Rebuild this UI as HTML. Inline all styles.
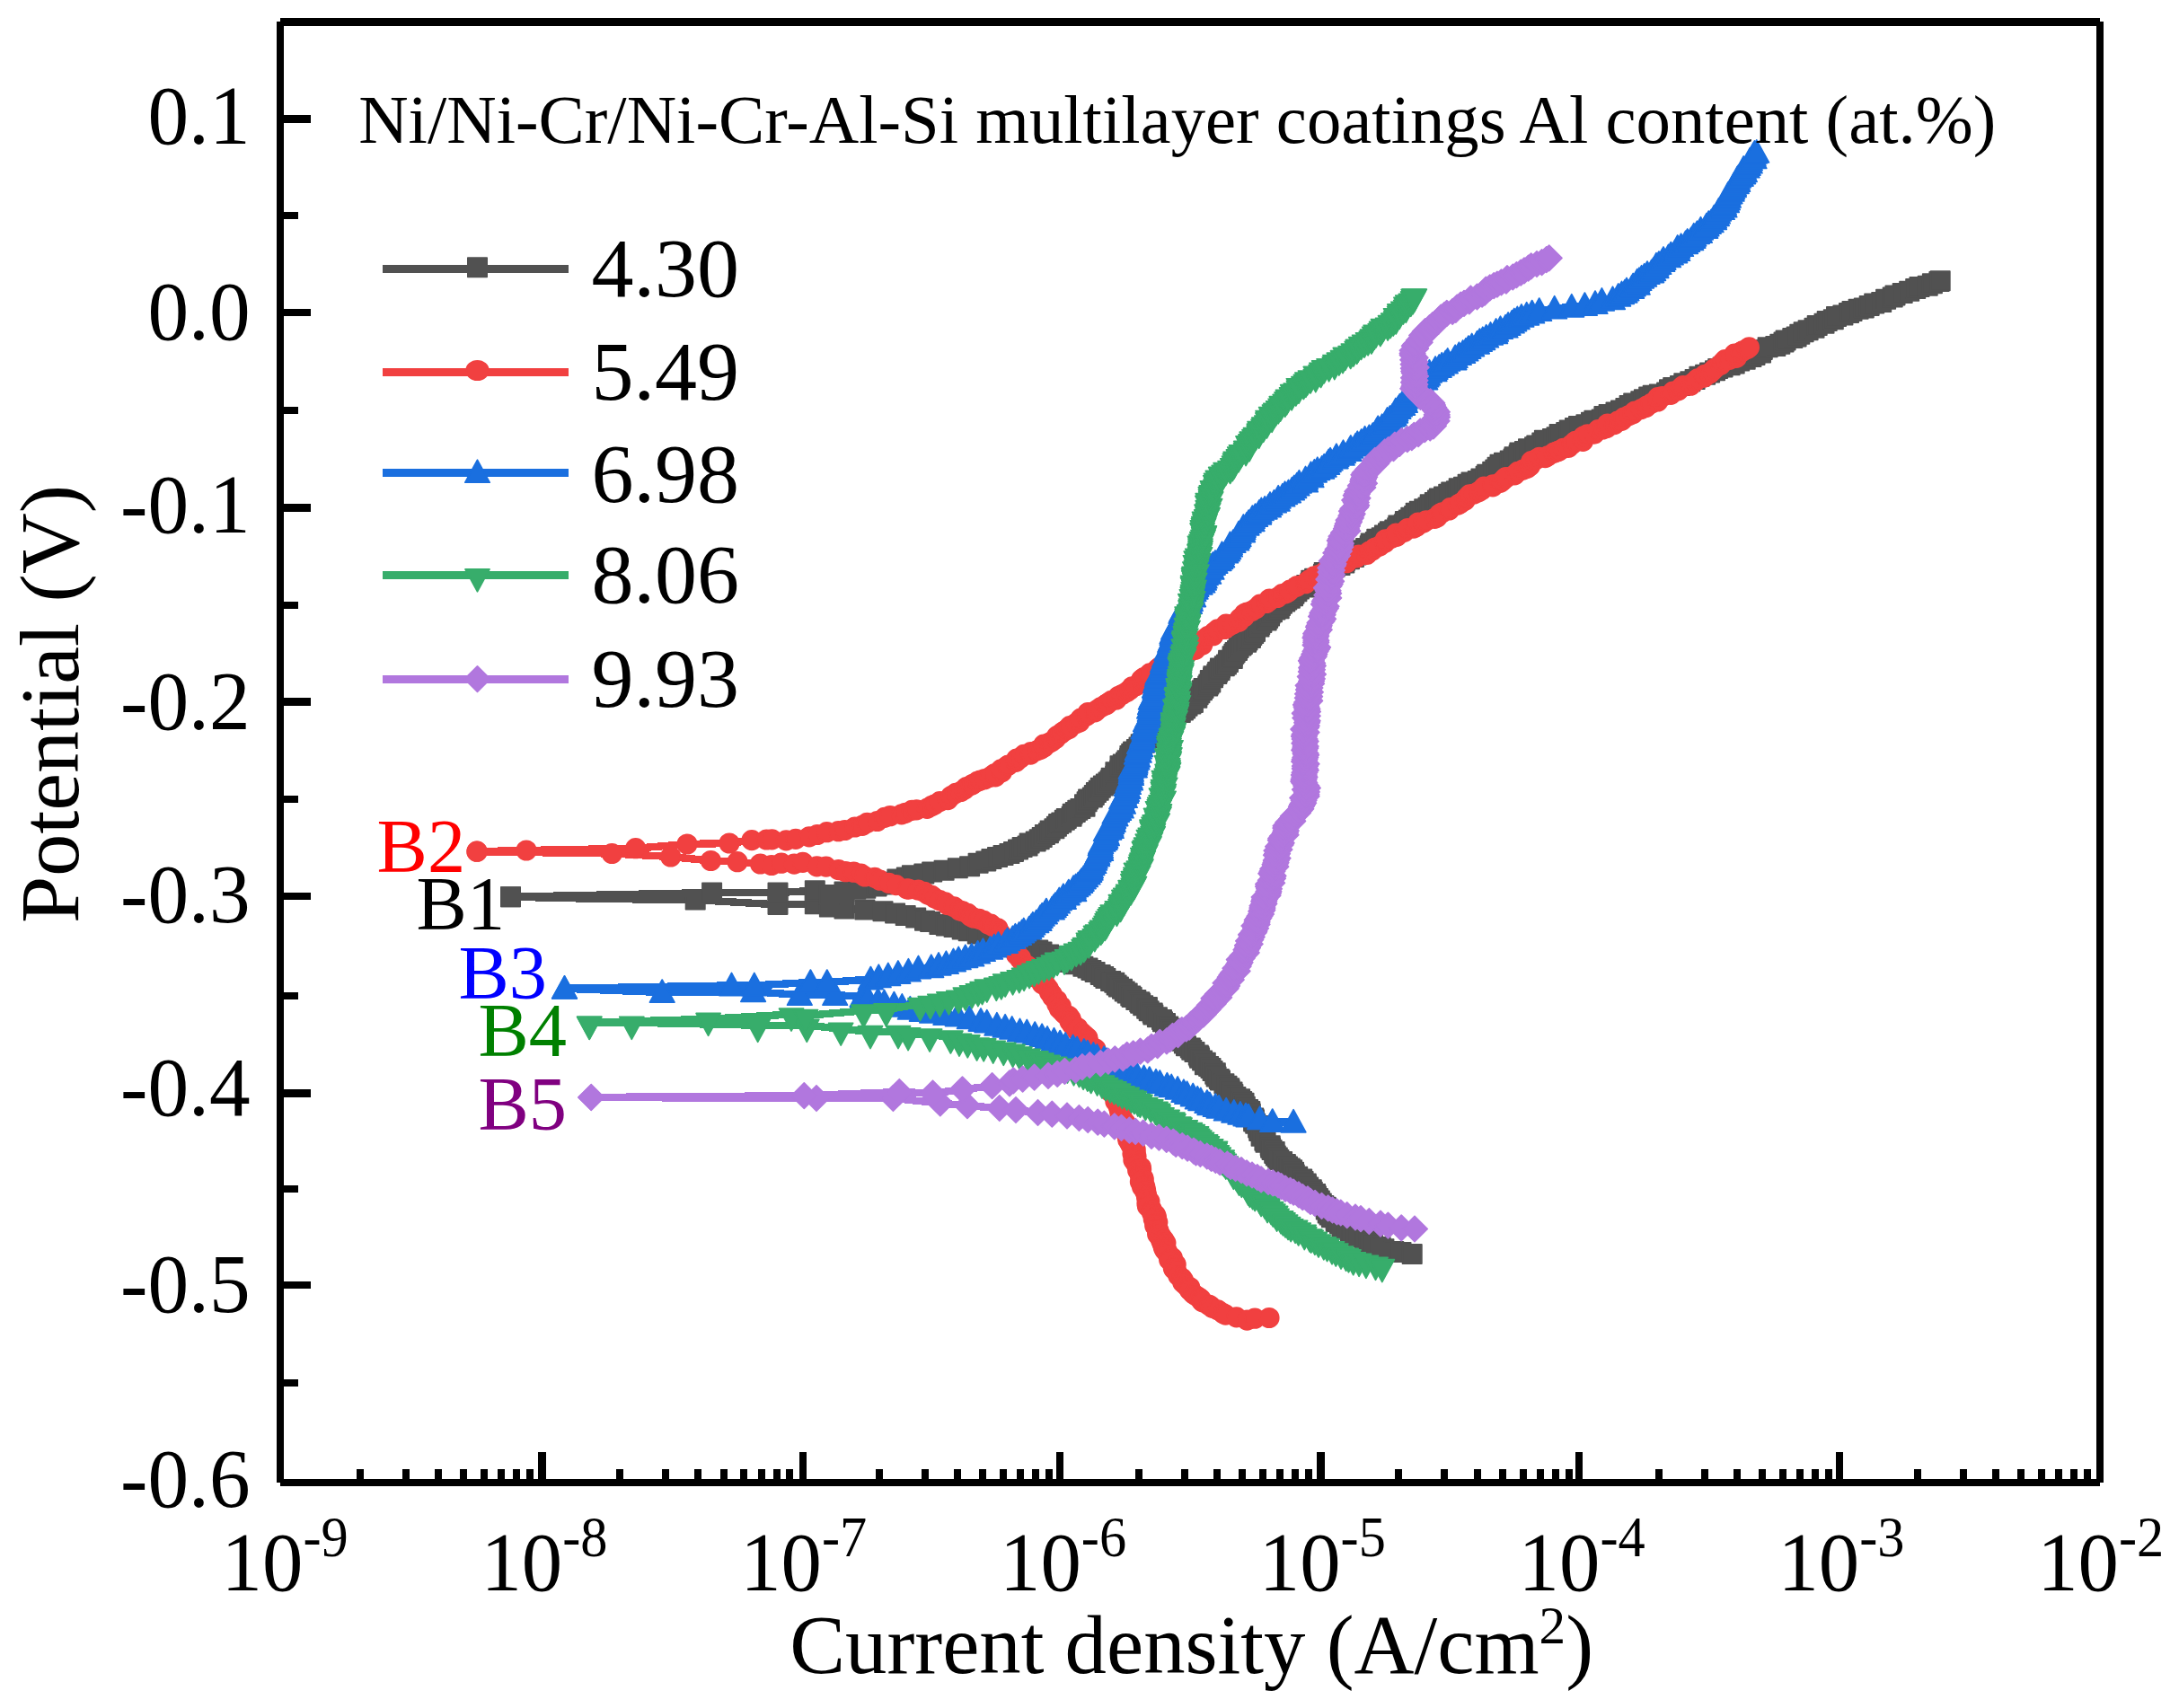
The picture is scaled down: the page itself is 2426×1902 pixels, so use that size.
<!DOCTYPE html>
<html lang="en"><head><meta charset="utf-8"><title>Polarization curves</title>
<style>html,body{margin:0;padding:0;background:#fff;overflow:hidden}svg{display:block}text{font-family:"Liberation Serif",serif;fill:#000}</style></head><body>
<svg width="2426" height="1902" viewBox="0 0 2426 1902">
<rect width="2426" height="1902" fill="#fff"/>
<defs>
<marker id="mB1" markerUnits="userSpaceOnUse" markerWidth="44" markerHeight="44" refX="0" refY="0" viewBox="-22 -22 44 44" overflow="visible"><g fill="#515151" stroke="#515151" stroke-width="1.6" stroke-linejoin="round"><rect x="-10.7" y="-10.7" width="21.4" height="21.4"/></g></marker>
<marker id="mB2" markerUnits="userSpaceOnUse" markerWidth="44" markerHeight="44" refX="0" refY="0" viewBox="-22 -22 44 44" overflow="visible"><g fill="#F14040" stroke="#F14040" stroke-width="1.6" stroke-linejoin="round"><circle r="10.8"/></g></marker>
<marker id="mB3" markerUnits="userSpaceOnUse" markerWidth="44" markerHeight="44" refX="0" refY="0" viewBox="-22 -22 44 44" overflow="visible"><g fill="#1A6FDF" stroke="#1A6FDF" stroke-width="1.6" stroke-linejoin="round"><path d="M0,-14 L13.8,11.2 L-13.8,11.2 Z"/></g></marker>
<marker id="mB4" markerUnits="userSpaceOnUse" markerWidth="44" markerHeight="44" refX="0" refY="0" viewBox="-22 -22 44 44" overflow="visible"><g fill="#37AD6B" stroke="#37AD6B" stroke-width="1.6" stroke-linejoin="round"><path d="M-13.6,-6.4 L13.6,-6.4 L0,18.6 Z"/></g></marker>
<marker id="mB5" markerUnits="userSpaceOnUse" markerWidth="44" markerHeight="44" refX="0" refY="0" viewBox="-22 -22 44 44" overflow="visible"><g fill="#B177DE" stroke="#B177DE" stroke-width="1.6" stroke-linejoin="round"><path d="M0,-14.3 L14.3,0 L0,14.3 L-14.3,0 Z"/></g></marker>
</defs>
<g fill="none" stroke="#515151" stroke-width="8.4" stroke-linejoin="round" stroke-linecap="round" shape-rendering="crispEdges">
<polyline points="568.5,998.7 672.0,1001.0 774.2,1002.0 866.0,1007.4 907.3,1006.7 923.4,1010.0 940.0,1012.0"/>
<polyline stroke="none" points="568.5,998.7 774.2,1002.0 866.0,1007.4 907.3,1006.7 923.4,1010.0" marker-start="url(#mB1)" marker-mid="url(#mB1)" marker-end="url(#mB1)"/>
<polyline points="940.0,1012.0 962.9,1013.1 983.0,1014.8 996.6,1017.1 1008.2,1019.6 1019.7,1022.0 1029.5,1025.2 1035.6,1026.5 1045.9,1029.6 1053.3,1030.9 1062.1,1032.6 1071.2,1035.0 1078.2,1036.8 1088.3,1040.0 1098.5,1042.4 1109.1,1044.8 1116.9,1046.6 1123.7,1048.5 1133.6,1051.1 1138.8,1053.0 1146.9,1055.0 1155.7,1058.0 1160.0,1060.0 1167.7,1062.9 1175.7,1065.0 1183.3,1067.4 1186.5,1069.7 1191.4,1071.5 1197.2,1073.8 1205.9,1076.3 1211.0,1078.1 1214.9,1080.4 1219.1,1082.4 1225.2,1085.4 1228.7,1087.4 1230.9,1089.5 1236.6,1092.5 1240.8,1094.3 1243.1,1097.0 1245.4,1099.0 1249.5,1101.2 1252.2,1104.1 1255.2,1106.0 1258.8,1109.1 1260.2,1110.6 1264.8,1113.5 1268.8,1115.8 1269.7,1117.2 1272.7,1119.8 1277.4,1121.6 1276.7,1123.3 1279.2,1125.7 1283.2,1128.0 1283.9,1130.1 1288.4,1132.8 1293.5,1135.6 1294.5,1137.7 1297.5,1139.6 1300.7,1142.9 1303.0,1145.3 1303.9,1147.2 1305.7,1149.8 1308.6,1151.9 1312.0,1154.6 1314.9,1157.0 1315.9,1159.3 1318.4,1162.0 1320.5,1164.8 1325.3,1166.9 1326.8,1169.3 1330.0,1171.5 1334.3,1175.0 1335.1,1176.6 1335.6,1178.3 1338.6,1181.0 1342.3,1183.2 1341.4,1185.7 1345.6,1187.4 1348.0,1189.5 1350.1,1192.6 1353.3,1194.8 1352.8,1196.3 1354.1,1198.9 1357.3,1201.4 1358.5,1203.0 1362.9,1206.7 1366.0,1209.2 1368.7,1211.8 1369.1,1213.8 1372.0,1215.9 1372.9,1218.5 1375.9,1221.5 1380.6,1223.8 1382.7,1226.5 1385.0,1228.2 1384.4,1230.0 1386.3,1232.3 1389.6,1235.6 1391.8,1237.6 1392.3,1240.2 1391.4,1242.3 1395.7,1244.9 1396.4,1246.7 1395.6,1248.9 1397.7,1251.2 1401.5,1253.4 1400.6,1255.9 1403.0,1257.5 1401.7,1259.4 1405.8,1263.0 1404.1,1265.2 1408.7,1268.1 1407.9,1270.2 1409.0,1272.2 1414.2,1275.8 1414.6,1278.3 1416.1,1280.5 1419.2,1282.4 1418.7,1284.4 1420.3,1286.9 1422.3,1288.9 1423.9,1291.4 1427.6,1293.6 1431.4,1296.6 1433.5,1298.9 1436.3,1301.0 1438.6,1302.8 1440.5,1305.2 1441.3,1307.9 1444.7,1310.2 1449.7,1313.1 1451.1,1315.4 1454.2,1318.0 1454.4,1319.8 1456.7,1321.9 1460.3,1324.7 1461.3,1327.2 1464.6,1329.6 1465.5,1332.0 1467.4,1334.6 1469.3,1337.0 1471.3,1339.9 1473.8,1342.4 1476.2,1344.3 1476.3,1347.1 1479.0,1348.9 1478.2,1351.1 1480.1,1353.1 1482.4,1355.8 1487.3,1358.6 1487.3,1360.4 1491.3,1362.4 1494.3,1365.5 1494.0,1367.1 1497.7,1369.1 1503.5,1372.0 1504.6,1373.6 1510.0,1375.9 1513.0,1378.1 1519.6,1380.5 1524.2,1383.3 1528.5,1385.5 1537.1,1388.5 1540.9,1390.8 1551.8,1393.4 1560.0,1394.4 1572.2,1396.6" marker-start="url(#mB1)" marker-mid="url(#mB1)" marker-end="url(#mB1)"/>
<polyline points="568.5,998.7 792.6,994.0 866.0,994.0 907.3,991.8 923.4,996.4 940.0,993.0"/>
<polyline stroke="none" points="568.5,998.7 792.6,994.0 866.0,994.0 907.3,991.8 923.4,996.4" marker-start="url(#mB1)" marker-mid="url(#mB1)" marker-end="url(#mB1)"/>
<polyline points="940.0,993.0 952.8,990.2 963.8,989.2 976.1,986.9 982.6,984.9 992.0,982.3 998.9,978.9 1009.3,977.1 1015.4,974.8 1028.8,973.1 1037.7,971.0 1051.1,969.3 1066.3,966.7 1079.6,964.7 1089.1,961.2 1097.8,958.9 1103.9,956.6 1110.5,954.5 1117.0,952.5 1123.9,950.6 1128.5,948.4 1133.5,946.1 1138.1,943.6 1144.0,942.0 1146.1,939.1 1153.2,936.9 1157.2,934.7 1160.2,932.5 1163.4,929.5 1167.4,927.8 1169.1,925.1 1173.9,922.8 1176.4,920.2 1178.6,917.6 1181.8,915.9 1185.3,913.2 1187.3,911.4 1193.1,909.3 1194.2,906.2 1197.3,904.4 1199.8,902.2 1202.9,900.5 1208.0,898.2 1207.5,895.7 1210.1,892.7 1211.6,890.1 1216.3,888.1 1218.3,885.4 1220.4,882.6 1223.2,880.2 1225.3,877.2 1228.4,874.9 1231.3,873.1 1234.0,871.1 1236.1,869.1 1237.2,866.2 1241.7,864.2 1242.7,862.3 1241.9,859.8 1246.7,857.8 1247.6,855.6 1247.0,852.7 1250.3,851.0 1253.5,849.0 1255.0,846.8 1257.6,844.5 1257.9,841.5 1259.7,839.2 1261.6,837.0 1265.4,834.5 1268.0,832.0 1270.2,828.8 1274.2,827.3 1276.0,824.4 1279.2,821.6 1281.9,819.4 1281.6,816.5 1286.4,814.4 1289.2,812.9 1291.2,810.0 1294.3,808.1 1298.4,806.1 1300.7,803.4 1301.3,801.1 1306.0,799.4 1307.9,796.9 1308.9,794.8 1314.3,793.5 1317.4,791.0 1319.7,788.9 1322.0,786.2 1325.9,784.1 1328.4,782.4 1327.1,778.8 1332.8,777.3 1334.1,773.8 1335.9,771.8 1338.4,768.8 1340.0,766.4 1344.7,764.1 1345.8,762.1 1347.8,760.0 1347.3,757.6 1350.5,754.7 1350.9,752.7 1354.8,750.6 1355.7,748.2 1358.1,746.6 1358.5,744.1 1363.3,741.7 1365.4,740.1 1367.4,737.5 1367.6,735.2 1372.3,733.5 1372.1,730.8 1373.9,728.2 1375.1,726.5 1377.5,724.4 1379.1,721.4 1381.9,719.1 1383.4,717.4 1387.6,715.2 1389.0,712.9 1392.5,710.4 1393.8,707.5 1395.7,705.5 1397.5,703.4 1397.4,700.2 1402.0,698.1 1402.8,695.5 1404.9,693.4 1410.2,690.9 1411.6,688.4 1413.5,686.1 1414.1,683.3 1416.4,681.8 1419.9,679.0 1424.2,677.8 1425.5,674.5 1427.4,672.2 1430.7,670.0 1432.8,667.9 1436.3,666.3 1439.5,663.7 1440.9,661.3 1443.9,658.8 1446.4,656.1 1453.3,653.9 1454.7,651.6 1459.0,648.9 1459.8,646.2 1463.6,644.2 1469.5,642.7 1473.4,639.6 1474.2,637.5 1480.9,635.6 1483.1,632.8 1486.1,631.4 1492.0,629.6 1496.8,627.0 1497.5,624.3 1502.5,622.7 1507.4,620.6 1510.0,618.1 1513.4,615.3 1516.0,612.8 1520.6,610.5 1525.2,607.8 1526.2,605.0 1531.3,603.4 1532.8,600.2 1538.2,598.7 1541.4,596.1 1545.5,593.8 1547.3,591.8 1552.8,590.1 1555.7,587.7 1556.8,585.0 1563.3,583.7 1564.4,580.5 1568.3,578.9 1570.8,576.2 1574.6,574.6 1576.2,571.2 1580.3,569.3 1585.7,566.8 1590.0,564.9 1592.2,561.7 1597.3,559.6 1600.4,557.1 1602.4,555.1 1607.5,553.1 1612.7,550.3 1615.7,548.1 1621.4,546.7 1624.2,543.7 1629.5,542.3 1634.1,539.2 1638.0,537.1 1645.2,535.6 1648.9,533.1 1654.1,530.3 1655.7,528.2 1661.7,525.2 1664.8,522.9 1667.1,520.2 1670.0,517.3 1674.5,515.3 1681.2,513.1 1685.0,510.9 1686.0,508.8 1691.1,506.5 1691.9,504.0 1697.4,502.6 1701.5,499.8 1708.6,497.7 1710.8,496.0 1716.8,492.9 1719.4,490.2 1728.5,488.5 1733.0,486.7 1736.1,483.4 1743.7,481.6 1747.2,479.0 1753.5,476.5 1757.5,474.6 1765.9,472.8 1771.5,470.2 1774.9,468.3 1783.2,467.0 1785.9,463.6 1791.1,461.4 1799.0,459.0 1804.5,457.0 1809.9,454.5 1814.1,451.4 1818.7,448.9 1826.8,446.7 1830.4,444.8 1835.7,442.0 1840.2,440.3 1847.4,438.9 1855.6,437.1 1858.5,433.7 1862.7,431.6 1870.5,429.5 1874.8,426.8 1881.8,424.8 1887.1,422.5 1891.9,419.3 1898.6,417.3 1903.6,415.0 1909.5,412.8 1912.7,410.4 1918.1,408.9 1926.1,406.7 1931.2,405.1 1936.7,402.1 1943.2,400.3 1949.9,397.5 1954.0,395.4 1960.5,393.1 1962.3,389.4 1968.1,386.8 1976.8,385.6 1981.8,383.2 1986.0,381.1 1988.1,378.9 1995.8,376.6 2000.1,374.9 2003.8,372.3 2008.1,369.7 2013.1,367.7 2020.0,365.2 2023.2,362.5 2031.0,360.3 2034.2,357.6 2041.3,355.7 2044.5,352.5 2051.9,351.0 2058.5,348.5 2062.0,346.6 2069.1,344.3 2075.3,342.9 2081.2,340.4 2086.7,338.0 2094.7,336.6 2099.6,333.3 2107.2,331.1 2110.0,328.9 2118.2,326.5 2125.7,324.3 2132.7,321.5 2137.0,319.5 2146.2,318.2 2151.4,315.7 2158.9,313.6 2160.2,312.7" marker-start="url(#mB1)" marker-mid="url(#mB1)" marker-end="url(#mB1)"/>
</g>
<g fill="none" stroke="#F14040" stroke-width="8.4" stroke-linejoin="round" stroke-linecap="round" shape-rendering="crispEdges">
<polyline points="531.0,948.2 681.3,950.5 746.7,954.0 791.4,958.5 821.0,959.7 846.5,962.0"/>
<polyline stroke="none" points="531.0,948.2 681.3,950.5 746.7,954.0 791.4,958.5 821.0,959.7" marker-start="url(#mB2)" marker-mid="url(#mB2)" marker-end="url(#mB2)"/>
<polyline points="846.5,962.0 859.0,963.5 869.9,961.2 884.2,962.1 893.8,960.3 909.5,964.9 919.7,965.1 933.5,968.6 941.4,970.7 950.5,971.2 958.4,973.0 962.8,976.0 973.9,977.3 979.7,980.2 989.4,983.3 997.6,985.6 1009.7,989.9 1011.7,990.1 1022.2,991.2 1029.2,993.4 1033.1,996.1 1037.2,997.4 1040.6,1000.1 1046.2,1002.7 1052.4,1004.9 1055.2,1007.7 1062.2,1009.8 1068.2,1013.9 1071.8,1014.9 1077.6,1017.4 1080.5,1020.2 1083.8,1022.1 1090.0,1023.3 1095.2,1025.4 1100.3,1029.1 1103.1,1029.2 1105.9,1031.9 1110.9,1033.8 1112.4,1037.9 1114.1,1039.7 1113.8,1042.3 1118.0,1044.9 1123.0,1045.9 1124.5,1050.2 1122.2,1050.8 1127.7,1053.5 1130.0,1056.5 1131.2,1058.7 1131.5,1062.9 1132.2,1063.7 1136.4,1066.6 1136.1,1068.4 1139.0,1072.7 1143.7,1075.3 1142.3,1076.8 1143.4,1078.2 1148.0,1080.3 1151.2,1083.1 1151.7,1085.7 1151.4,1087.7 1156.7,1088.8 1159.6,1090.6 1162.4,1093.6 1160.2,1095.5 1161.9,1096.2 1165.1,1098.3 1167.4,1101.1 1168.5,1105.1 1170.5,1106.8 1171.3,1107.5 1171.7,1110.1 1176.7,1113.8 1177.5,1117.4 1176.7,1118.0 1181.3,1120.5 1179.5,1123.4 1182.3,1126.1 1185.4,1129.4 1189.8,1131.3 1192.1,1134.5 1191.1,1137.6 1193.2,1138.1 1193.8,1141.3 1199.8,1144.5 1199.0,1145.1 1199.0,1147.9 1204.5,1149.9 1207.2,1152.5 1210.9,1155.6 1208.6,1157.6 1208.7,1158.7 1212.0,1160.6 1211.4,1163.9 1212.7,1165.8 1219.9,1168.2 1217.7,1171.4 1221.4,1174.5 1224.7,1176.4 1223.0,1179.0 1222.2,1182.6 1227.0,1185.1 1223.3,1187.1 1228.3,1189.3 1229.3,1191.7 1227.6,1192.9 1229.0,1195.2 1230.9,1199.5 1234.1,1202.5 1235.2,1203.4 1235.0,1206.0 1236.9,1208.6 1234.4,1210.7 1238.9,1212.4 1239.3,1214.0 1236.8,1216.2 1240.8,1220.5 1242.2,1221.2 1244.3,1223.5 1241.9,1226.5 1245.0,1228.5 1246.0,1231.3 1245.4,1233.0 1247.3,1235.4 1246.5,1237.0 1248.1,1238.4 1247.2,1241.3 1247.7,1244.3 1249.4,1244.7 1250.5,1249.4 1252.9,1250.2 1251.9,1252.2 1256.3,1256.8 1256.7,1259.5 1253.5,1261.2 1255.7,1264.5 1259.0,1267.7 1255.7,1269.5 1261.6,1273.1 1258.2,1273.2 1259.2,1275.3 1264.2,1280.2 1263.5,1282.5 1263.9,1283.5 1261.0,1284.8 1265.0,1287.8 1262.9,1290.2 1261.9,1291.8 1264.3,1295.3 1265.8,1296.7 1270.3,1299.8 1270.6,1302.2 1266.7,1303.2 1269.5,1306.6 1269.3,1308.5 1270.7,1309.7 1272.9,1311.9 1273.2,1314.3 1269.4,1316.1 1274.7,1321.1 1271.6,1321.8 1275.6,1325.5 1274.8,1327.1 1276.6,1330.6 1276.7,1333.4 1277.2,1334.3 1279.9,1337.9 1277.0,1340.3 1277.5,1343.3 1281.9,1346.5 1282.6,1348.0 1282.5,1350.6 1286.4,1352.8 1287.4,1355.2 1284.3,1357.6 1288.8,1361.1 1286.2,1363.9 1285.8,1364.9 1288.0,1368.1 1289.9,1370.2 1288.6,1371.2 1288.7,1374.5 1292.9,1376.8 1291.3,1377.8 1295.8,1380.8 1292.9,1382.0 1297.9,1384.1 1294.4,1385.7 1297.9,1389.5 1295.5,1389.5 1296.9,1392.2 1299.7,1394.3 1300.1,1396.5 1305.3,1400.7 1301.7,1402.9 1303.0,1403.8 1309.1,1407.9 1308.6,1409.2 1306.3,1411.5 1306.9,1413.2 1309.9,1415.9 1311.8,1420.6 1315.6,1423.0 1317.5,1425.7 1316.9,1428.3 1320.3,1431.4 1324.7,1433.5 1324.3,1436.2 1325.0,1437.0 1328.6,1440.9 1331.2,1442.5 1334.7,1444.8 1336.6,1446.3 1337.7,1448.5 1338.9,1449.7 1345.4,1453.0 1347.2,1453.8 1349.8,1456.3 1355.9,1458.8 1361.7,1462.5 1364.5,1464.1 1376.6,1466.9 1388.4,1470.1 1397.1,1468.2 1413.0,1467.5" marker-start="url(#mB2)" marker-mid="url(#mB2)" marker-end="url(#mB2)"/>
<polyline points="531.0,948.2 586.0,947.0 707.7,944.7 765.0,940.0 812.0,939.0 837.0,935.6"/>
<polyline stroke="none" points="531.0,948.2 586.0,947.0 707.7,944.7 765.0,940.0 812.0,939.0" marker-start="url(#mB2)" marker-mid="url(#mB2)" marker-end="url(#mB2)"/>
<polyline points="837.0,935.6 853.4,935.0 859.4,934.8 875.3,935.9 885.9,934.3 900.9,931.8 909.9,929.5 920.5,926.7 933.4,925.7 940.6,924.5 951.8,921.0 960.1,919.4 965.4,916.3 976.6,914.5 984.9,910.4 991.0,908.7 1003.8,906.8 1008.1,905.3 1015.4,902.4 1020.4,901.9 1032.2,900.4 1036.9,897.7 1040.4,896.0 1046.3,892.6 1055.3,890.6 1059.0,886.5 1064.1,883.4 1069.7,881.5 1073.8,879.0 1076.0,876.5 1081.3,874.4 1083.1,873.4 1088.1,870.4 1091.5,869.1 1096.3,867.7 1102.2,865.4 1108.2,864.8 1107.1,861.8 1115.3,859.9 1114.4,856.9 1121.5,852.8 1122.7,852.1 1131.1,848.4 1131.8,845.1 1135.9,844.2 1140.0,840.4 1147.3,840.1 1147.7,837.7 1154.6,835.9 1158.6,834.2 1162.3,832.1 1162.0,829.2 1167.6,827.5 1170.9,825.9 1175.3,822.5 1176.7,819.7 1180.9,817.3 1183.3,815.0 1186.4,813.2 1190.2,811.6 1191.1,808.6 1197.6,805.7 1202.0,804.0 1203.2,800.1 1209.3,797.3 1210.8,796.1 1211.3,793.5 1219.1,792.9 1221.0,790.8 1225.3,787.9 1230.3,785.2 1232.1,784.6 1233.4,783.0 1237.4,780.3 1242.8,779.0 1244.9,775.6 1249.2,773.5 1254.5,770.5 1258.0,768.0 1260.4,764.8 1264.8,763.8 1269.5,760.8 1270.8,756.6 1273.6,754.5 1279.2,752.8 1280.2,749.9 1289.5,748.1 1288.8,744.7 1291.9,742.3 1300.3,742.0 1302.1,740.4 1307.5,738.4 1310.0,736.3 1314.3,734.4 1317.5,731.2 1320.2,729.5 1323.6,726.2 1323.7,723.1 1330.9,723.3 1334.2,719.4 1338.7,718.0 1340.1,714.0 1341.5,711.3 1344.8,708.7 1350.7,707.7 1351.7,704.1 1355.6,700.9 1363.3,700.5 1366.9,698.1 1365.1,695.1 1372.5,695.0 1379.3,692.2 1380.4,688.7 1385.3,686.8 1385.7,683.3 1388.5,682.2 1393.5,680.5 1398.2,677.7 1402.9,673.1 1409.9,671.5 1413.3,668.9 1413.4,667.0 1422.1,665.5 1427.4,661.6 1431.2,660.9 1433.9,659.3 1436.2,657.2 1443.3,653.4 1444.3,652.5 1453.6,649.7 1454.6,648.5 1457.3,646.2 1463.3,641.9 1467.8,640.5 1473.4,638.2 1476.3,635.6 1481.4,632.7 1487.0,629.8 1490.6,628.2 1499.2,626.7 1502.0,623.3 1503.2,622.5 1510.6,620.8 1512.9,618.1 1521.7,617.5 1524.6,614.0 1527.7,613.0 1530.9,610.0 1536.0,608.1 1541.9,604.2 1542.4,600.8 1549.2,599.2 1555.1,597.4 1554.4,594.0 1563.4,592.3 1567.3,588.5 1573.9,588.1 1577.2,586.2 1579.0,582.0 1584.6,582.0 1587.8,579.8 1597.3,577.3 1600.0,576.0 1603.0,572.3 1605.7,570.8 1613.4,568.0 1614.6,565.6 1623.2,562.1 1625.8,560.6 1631.0,557.2 1632.8,554.4 1636.1,550.9 1641.0,550.0 1646.1,547.7 1649.8,545.5 1652.3,542.2 1662.0,541.8 1662.2,539.8 1670.4,537.3 1672.8,535.4 1675.8,532.2 1676.9,531.7 1686.3,528.8 1689.9,525.4 1695.7,523.1 1700.4,521.2 1703.5,518.8 1704.9,513.6 1709.7,511.8 1713.9,509.3 1720.4,509.6 1723.3,507.8 1730.0,504.2 1733.1,503.0 1735.4,502.2 1740.5,499.3 1746.3,498.3 1750.4,494.5 1754.1,491.3 1762.4,491.3 1763.1,485.8 1767.4,483.9 1775.0,483.1 1779.3,478.6 1784.4,478.0 1788.8,476.5 1789.8,472.0 1797.4,472.6 1801.1,469.1 1805.5,468.4 1807.9,465.2 1813.2,462.8 1818.0,460.8 1820.2,458.0 1827.2,455.6 1832.5,453.5 1833.4,452.0 1838.4,449.4 1845.7,447.0 1845.8,442.7 1850.7,441.5 1860.2,439.3 1862.5,436.2 1868.5,434.8 1871.4,431.9 1874.0,429.5 1882.2,429.2 1883.3,427.6 1887.5,424.5 1890.1,421.8 1897.5,420.1 1898.0,417.4 1903.3,416.0 1906.2,413.3 1909.2,410.3 1915.6,406.3 1917.8,403.6 1920.6,400.7 1925.6,400.3 1933.2,398.4 1931.1,394.1 1938.3,392.2 1940.2,390.8 1945.2,388.5 1947.4,386.8" marker-start="url(#mB2)" marker-mid="url(#mB2)" marker-end="url(#mB2)"/>
</g>
<g fill="none" stroke="#1A6FDF" stroke-width="8.4" stroke-linejoin="round" stroke-linecap="round" shape-rendering="crispEdges">
<polyline points="628.5,1100.8 737.2,1105.0 838.6,1104.2 890.3,1108.0 929.7,1108.0 960.0,1110.0"/>
<polyline stroke="none" points="628.5,1100.8 737.2,1105.0 838.6,1104.2 890.3,1108.0 929.7,1108.0" marker-start="url(#mB3)" marker-mid="url(#mB3)" marker-end="url(#mB3)"/>
<polyline points="960.0,1110.0 966.1,1111.7 977.5,1114.6 984.5,1116.3 995.4,1118.5 1004.3,1120.8 1013.3,1123.7 1026.2,1125.9 1037.6,1127.7 1052.9,1130.0 1066.2,1131.4 1079.3,1134.2 1092.0,1136.9 1098.8,1138.6 1109.9,1141.7 1119.1,1143.7 1126.7,1145.8 1135.5,1148.3 1143.3,1149.4 1152.2,1152.0 1160.1,1154.1 1166.0,1156.8 1173.5,1158.6 1180.2,1161.5 1186.2,1163.8 1194.6,1166.3 1199.1,1168.5 1206.9,1170.9 1210.9,1172.6 1217.3,1174.8 1221.4,1176.9 1229.2,1179.1 1232.2,1181.1 1237.6,1183.1 1244.6,1186.1 1246.2,1188.0 1250.8,1191.2 1254.8,1192.8 1262.8,1195.6 1266.2,1198.0 1273.6,1200.3 1279.8,1202.0 1287.0,1204.7 1291.3,1205.9 1299.4,1208.7 1304.2,1210.3 1311.1,1212.8 1317.9,1216.1 1321.6,1218.1 1328.2,1220.4 1333.2,1223.6 1336.8,1225.3 1343.9,1228.0 1346.9,1230.3 1353.2,1232.0 1357.1,1233.7 1365.2,1236.6 1373.8,1238.8 1380.9,1240.8 1387.0,1242.5 1390.0,1243.5 1402.6,1246.2 1416.7,1249.0 1440.1,1249.7" marker-start="url(#mB3)" marker-mid="url(#mB3)" marker-end="url(#mB3)"/>
<polyline points="628.5,1100.8 814.5,1097.4 839.8,1097.4 902.4,1094.0 920.8,1094.0 969.4,1090.5"/>
<polyline stroke="none" points="628.5,1100.8 814.5,1097.4 839.8,1097.4 902.4,1094.0 920.8,1094.0" marker-start="url(#mB3)" marker-mid="url(#mB3)" marker-end="url(#mB3)"/>
<polyline points="969.4,1090.5 978.3,1088.2 988.8,1086.3 999.9,1083.9 1011.4,1081.6 1022.5,1078.4 1036.8,1077.2 1045.0,1074.8 1053.4,1073.1 1061.5,1070.4 1067.2,1068.3 1074.8,1066.2 1081.8,1064.6 1088.6,1061.6 1094.4,1059.1 1102.6,1056.8 1106.9,1054.4 1111.5,1051.9 1119.5,1049.9 1121.6,1047.3 1127.4,1045.1 1130.4,1042.7 1134.6,1040.9 1137.7,1038.4 1139.8,1036.4 1145.8,1034.5 1148.2,1032.0 1149.9,1029.6 1153.8,1027.3 1157.0,1024.9 1158.2,1022.0 1160.2,1019.7 1163.4,1017.4 1164.9,1014.5 1171.3,1012.5 1173.2,1010.2 1174.9,1008.1 1177.5,1005.6 1179.3,1002.4 1184.4,1000.9 1183.9,998.1 1188.2,996.4 1189.8,993.5 1195.8,992.2 1195.2,989.0 1197.7,987.3 1200.3,985.4 1202.7,983.0 1204.2,980.9 1206.3,978.4 1208.5,976.3 1211.1,973.5 1212.8,970.9 1214.1,968.8 1214.4,966.4 1215.9,963.3 1217.9,961.1 1218.6,957.8 1219.2,955.6 1221.6,953.3 1221.7,951.1 1223.0,948.6 1225.6,947.0 1225.5,944.1 1225.1,941.4 1225.7,939.3 1228.0,936.8 1230.1,934.9 1230.8,933.0 1232.4,930.3 1231.7,928.4 1231.4,925.2 1234.8,923.8 1237.3,922.1 1236.9,919.9 1237.7,917.2 1239.2,915.0 1238.8,912.7 1239.7,910.9 1242.0,908.4 1241.1,905.7 1243.6,903.9 1245.6,902.0 1248.3,899.6 1247.4,897.2 1250.4,894.8 1249.4,892.6 1248.7,889.5 1252.4,888.1 1251.4,884.7 1253.8,883.1 1254.5,880.9 1255.9,878.0 1254.2,875.1 1256.5,873.1 1256.1,870.2 1258.5,868.5 1257.9,866.3 1259.5,863.1 1259.2,861.3 1259.4,858.8 1259.1,855.9 1263.3,854.4 1263.6,851.7 1264.0,849.7 1264.1,847.3 1265.8,845.5 1266.6,842.7 1265.4,839.8 1268.2,837.8 1266.3,835.1 1268.5,833.6 1269.7,831.3 1268.5,827.9 1272.2,826.2 1272.9,823.8 1271.7,821.0 1272.0,819.1 1274.3,816.3 1274.2,813.8 1273.0,811.5 1275.5,809.3 1275.5,806.4 1275.5,803.2 1278.9,801.9 1277.5,799.1 1280.2,796.4 1280.1,794.4 1280.2,791.9 1279.6,788.7 1281.7,786.3 1280.5,784.3 1281.6,781.9 1281.3,778.8 1282.5,776.5 1285.7,774.7 1285.1,772.0 1285.8,769.9 1286.0,767.2 1285.5,765.5 1286.8,762.7 1286.6,760.3 1287.2,757.7 1289.4,755.9 1288.3,753.6 1288.9,750.8 1292.8,748.8 1292.3,746.9 1294.7,744.1 1293.8,742.0 1294.6,739.7 1294.5,737.2 1296.2,734.1 1296.6,731.5 1298.2,729.3 1299.9,727.3 1298.9,724.2 1301.0,721.9 1303.1,719.5 1302.7,717.3 1302.7,715.0 1303.9,712.5 1305.2,709.9 1305.1,707.2 1305.0,705.5 1306.4,703.1 1306.6,700.6 1308.7,698.5 1309.7,695.9 1311.0,693.9 1311.4,692.1 1313.0,689.7 1316.3,688.3 1317.0,686.2 1314.9,683.0 1315.5,681.2 1319.0,679.1 1319.3,677.1 1322.1,674.3 1324.5,672.0 1325.4,669.1 1324.9,666.9 1328.6,664.4 1327.2,660.7 1329.0,658.2 1331.1,655.8 1331.9,653.0 1336.1,650.7 1338.9,648.6 1340.4,645.8 1341.1,643.5 1342.3,640.3 1345.7,638.8 1345.1,635.3 1349.0,633.8 1347.9,630.6 1350.4,628.9 1353.0,626.9 1357.1,624.2 1358.8,622.2 1360.7,620.4 1360.5,617.1 1364.7,615.5 1366.4,613.5 1367.7,611.3 1369.5,608.6 1369.5,606.2 1373.0,604.0 1376.8,601.5 1377.8,598.9 1379.1,597.2 1379.1,594.3 1383.6,592.4 1384.0,589.4 1384.4,586.9 1388.1,584.7 1390.2,582.0 1394.1,580.2 1394.4,577.0 1397.6,575.0 1401.6,572.8 1401.9,570.8 1404.3,568.3 1408.2,566.7 1412.4,564.5 1414.0,561.9 1418.5,559.6 1422.2,557.8 1423.2,554.7 1427.9,552.6 1430.6,550.2 1434.5,548.4 1438.5,545.5 1440.8,543.3 1444.0,540.5 1446.4,537.7 1453.5,536.5 1453.5,533.4 1460.0,531.3 1459.5,528.2 1463.4,525.7 1466.8,523.2 1471.7,521.8 1474.2,519.7 1477.7,516.9 1479.2,514.3 1481.1,512.6 1487.1,510.4 1487.9,508.2 1494.2,506.8 1495.5,504.2 1502.1,502.1 1503.8,498.8 1509.2,496.6 1511.3,494.1 1515.7,491.9 1519.6,488.6 1524.4,487.1 1528.4,485.0 1531.5,482.8 1532.8,479.7 1534.2,477.2 1538.7,475.1 1542.0,473.0 1543.6,471.3 1544.5,467.8 1547.4,466.0 1550.1,463.8 1552.1,462.4 1553.7,459.7 1553.9,457.4 1556.9,455.0 1558.4,452.6 1561.7,450.9 1564.4,448.0 1563.7,445.5 1566.3,443.2 1566.7,440.3 1569.2,438.3 1573.9,436.8 1575.9,434.5 1578.6,431.9 1580.2,429.0 1581.7,427.2 1582.1,424.6 1586.8,422.4 1588.0,419.6 1589.6,417.7 1591.4,414.7 1597.0,413.3 1598.1,410.9 1602.3,408.9 1605.3,406.7 1609.4,404.4 1611.7,401.8 1619.0,400.4 1620.2,398.1 1624.4,395.1 1628.7,392.9 1632.0,390.6 1634.9,388.0 1638.7,385.4 1644.5,382.7 1647.4,380.0 1650.8,378.2 1654.7,375.6 1659.5,372.8 1664.7,371.3 1665.6,368.8 1670.5,366.1 1676.1,364.6 1679.1,361.9 1683.3,359.6 1685.8,357.4 1689.3,355.3 1693.9,352.8 1699.7,350.7 1705.7,348.5 1713.7,346.0 1730.7,343.6 1749.8,341.7 1764.4,340.0 1776.0,338.0 1783.4,334.8 1795.5,333.2 1801.7,329.8 1805.5,327.3 1809.0,325.7 1811.0,323.4 1816.7,320.9 1818.2,318.4 1823.2,316.8 1822.7,313.6 1824.9,312.1 1827.6,309.7 1830.7,307.7 1834.0,305.0 1838.7,303.4 1840.7,301.2 1844.0,298.2 1844.0,295.6 1846.9,294.0 1850.8,291.1 1852.0,288.9 1857.5,286.3 1860.3,283.5 1864.8,281.4 1867.8,279.1 1867.7,275.9 1871.6,274.1 1876.6,271.2 1878.7,268.9 1882.7,267.3 1885.0,264.9 1885.8,262.7 1889.4,260.2 1892.4,259.0 1893.5,255.7 1898.8,253.9 1900.0,251.5 1902.3,249.0 1905.1,247.3 1908.5,244.3 1908.4,242.4 1911.4,240.2 1912.5,237.6 1913.6,234.7 1917.4,233.1 1920.0,230.6 1919.4,227.8 1922.5,225.2 1923.4,222.4 1924.4,219.8 1923.9,216.8 1926.1,215.4 1928.1,212.8 1928.6,210.4 1930.4,208.2 1930.4,206.5 1933.3,204.2 1934.7,202.0 1934.2,199.4 1935.6,197.6 1938.3,195.9 1940.7,193.4 1942.4,191.2 1941.2,187.9 1945.2,186.6 1946.3,183.9 1948.3,181.6 1948.4,178.5 1953.0,176.3 1952.1,173.1 1953.4,170.8 1955.7,169.8" marker-start="url(#mB3)" marker-mid="url(#mB3)" marker-end="url(#mB3)"/>
</g>
<g fill="none" stroke="#37AD6B" stroke-width="8.4" stroke-linejoin="round" stroke-linecap="round" shape-rendering="crispEdges">
<polyline points="656.2,1138.7 703.3,1138.7 843.7,1141.7 898.3,1141.7 936.2,1145.6 969.0,1149.0 1000.0,1149.0"/>
<polyline stroke="none" points="656.2,1138.7 703.3,1138.7 843.7,1141.7 898.3,1141.7 936.2,1145.6 969.0,1149.0" marker-start="url(#mB4)" marker-mid="url(#mB4)" marker-end="url(#mB4)"/>
<polyline points="1000.0,1149.0 1011.1,1151.1 1035.1,1152.5 1058.4,1154.4 1068.0,1157.6 1077.3,1159.3 1087.6,1162.4 1095.2,1163.3 1105.7,1165.6 1117.3,1167.8 1127.6,1169.7 1135.3,1172.5 1144.6,1174.8 1153.4,1177.3 1159.4,1179.4 1166.3,1181.8 1174.2,1183.8 1182.4,1185.8 1188.4,1187.5 1195.5,1190.3 1201.5,1192.0 1206.1,1194.8 1210.8,1196.6 1214.7,1198.9 1221.6,1201.6 1227.0,1204.5 1231.1,1207.0 1236.1,1209.4 1240.5,1211.3 1245.1,1213.5 1249.5,1216.1 1254.7,1217.8 1259.6,1220.6 1262.8,1221.9 1266.9,1224.6 1269.4,1225.7 1275.3,1228.9 1281.3,1231.2 1286.5,1233.7 1289.1,1235.7 1289.7,1237.6 1293.5,1240.3 1299.6,1242.7 1305.4,1245.5 1306.4,1247.2 1312.2,1250.5 1313.5,1251.5 1319.7,1254.3 1324.8,1257.0 1327.8,1259.0 1332.0,1261.3 1333.2,1263.6 1335.3,1265.5 1338.0,1267.7 1342.1,1270.3 1343.9,1272.2 1348.2,1275.1 1353.0,1277.6 1352.6,1279.4 1354.8,1282.1 1356.7,1284.5 1360.6,1287.5 1360.9,1289.9 1362.8,1291.8 1364.8,1294.5 1369.6,1296.7 1371.0,1299.5 1370.8,1301.0 1373.1,1303.9 1373.4,1305.8 1376.8,1308.0 1378.7,1310.6 1379.5,1312.6 1382.4,1314.8 1386.5,1316.7 1388.6,1319.5 1388.3,1320.3 1389.7,1323.5 1391.5,1325.7 1394.6,1328.1 1397.2,1330.0 1402.4,1332.8 1404.1,1335.9 1408.2,1338.5 1411.6,1340.3 1411.1,1343.0 1415.2,1345.0 1417.3,1347.4 1420.1,1349.7 1421.6,1352.6 1426.1,1355.3 1428.4,1357.2 1431.1,1359.4 1434.1,1361.9 1437.2,1364.1 1442.1,1365.8 1445.7,1368.4 1451.6,1370.8 1452.3,1373.1 1458.2,1375.4 1459.7,1376.6 1463.9,1378.7 1468.0,1381.5 1473.8,1384.2 1477.6,1386.0 1483.0,1389.2 1487.3,1391.5 1493.0,1394.5 1498.6,1396.7 1501.5,1398.3 1506.7,1401.2 1513.1,1402.8 1520.9,1404.7 1531.5,1406.7 1538.8,1409.0" marker-start="url(#mB4)" marker-mid="url(#mB4)" marker-end="url(#mB4)"/>
<polyline points="656.2,1138.7 788.6,1134.8 881.0,1129.5 897.0,1131.0 961.4,1125.4 986.6,1124.2 1024.5,1118.0"/>
<polyline stroke="none" points="656.2,1138.7 788.6,1134.8 881.0,1129.5 897.0,1131.0 961.4,1125.4 986.6,1124.2" marker-start="url(#mB4)" marker-mid="url(#mB4)" marker-end="url(#mB4)"/>
<polyline points="1024.5,1118.0 1035.8,1115.9 1046.3,1113.6 1056.4,1111.2 1067.3,1109.6 1074.9,1106.4 1082.1,1104.2 1088.9,1102.1 1093.6,1100.0 1098.8,1097.5 1109.3,1095.8 1114.8,1094.2 1119.2,1091.4 1127.6,1089.3 1134.8,1087.1 1140.1,1084.8 1146.0,1082.0 1151.5,1079.8 1156.2,1077.3 1162.4,1075.2 1167.9,1072.9 1172.9,1070.4 1177.1,1067.8 1185.0,1066.6 1188.1,1064.2 1192.8,1062.0 1193.6,1060.0 1198.2,1057.7 1203.0,1056.0 1206.7,1052.9 1208.1,1051.0 1212.3,1048.3 1211.9,1045.6 1213.9,1043.1 1218.8,1041.1 1220.0,1037.8 1222.2,1036.4 1225.7,1033.8 1227.2,1031.7 1230.2,1028.9 1231.7,1026.7 1232.7,1024.1 1233.8,1021.7 1235.7,1019.1 1237.1,1017.2 1238.7,1014.5 1243.4,1012.7 1243.9,1010.1 1247.5,1007.9 1248.3,1006.2 1247.9,1003.0 1251.5,1001.1 1251.4,997.8 1253.3,995.6 1255.8,993.6 1256.2,991.6 1259.1,989.3 1258.7,987.0 1261.8,984.6 1262.9,982.8 1261.4,980.0 1262.0,977.0 1264.4,975.1 1264.5,972.7 1267.1,970.8 1265.0,967.8 1267.9,965.5 1270.4,963.4 1270.0,961.2 1270.7,958.5 1271.6,956.5 1272.8,954.1 1272.4,950.9 1274.2,949.2 1275.4,947.2 1273.9,944.1 1274.9,942.4 1276.1,939.5 1279.6,938.1 1277.8,935.5 1280.9,933.4 1279.0,930.9 1280.9,928.7 1283.7,926.9 1283.9,923.8 1282.7,921.6 1282.5,919.5 1284.5,916.6 1285.7,914.3 1288.7,912.5 1288.1,909.7 1287.0,906.8 1290.5,905.3 1290.9,902.2 1289.0,899.1 1290.8,897.1 1291.3,894.7 1292.6,892.1 1294.4,889.6 1295.6,887.6 1293.0,884.4 1295.3,882.3 1295.8,879.7 1294.8,877.5 1295.1,874.9 1297.3,872.6 1296.3,870.3 1296.8,867.9 1295.9,864.9 1298.7,862.5 1300.1,860.3 1299.6,857.8 1301.0,856.0 1300.7,853.4 1300.3,851.1 1298.9,848.0 1301.1,845.8 1301.8,843.5 1299.2,840.5 1302.4,839.3 1301.6,836.4 1301.6,834.0 1303.6,831.1 1301.5,828.7 1301.6,826.2 1302.6,823.2 1303.9,820.9 1304.1,818.1 1305.8,815.9 1306.2,813.2 1306.7,811.5 1305.8,807.8 1306.3,805.9 1306.2,803.2 1306.0,800.5 1308.5,798.3 1308.4,795.5 1309.1,793.1 1309.8,791.5 1310.3,788.6 1308.4,785.7 1310.7,783.8 1312.0,781.1 1310.8,779.2 1311.6,776.6 1309.8,773.5 1310.6,771.9 1312.8,769.2 1313.2,766.6 1312.3,764.9 1311.7,762.3 1313.5,759.2 1312.9,757.0 1313.1,754.8 1313.4,752.3 1314.1,749.1 1315.3,746.8 1315.4,744.8 1315.6,742.0 1313.7,739.1 1314.3,736.7 1314.9,734.1 1316.4,731.5 1318.2,729.0 1316.9,726.9 1318.0,724.4 1320.4,721.8 1317.8,718.5 1320.7,716.4 1319.3,714.1 1318.1,711.3 1318.6,709.0 1320.4,706.6 1319.8,704.1 1320.4,701.5 1321.1,699.9 1322.5,697.7 1320.9,695.0 1322.8,692.7 1323.2,690.3 1321.9,687.7 1321.8,684.8 1321.7,682.4 1324.1,680.2 1326.1,677.8 1325.5,675.3 1326.1,673.4 1326.9,670.2 1325.3,668.0 1328.2,665.3 1326.9,663.1 1327.7,660.3 1328.0,657.8 1328.8,654.9 1329.4,652.7 1328.0,649.6 1328.1,647.6 1330.2,644.8 1329.3,642.1 1329.0,639.5 1329.6,637.8 1332.3,635.5 1330.5,632.4 1331.9,630.5 1332.3,627.8 1330.9,625.1 1334.0,623.3 1331.8,620.4 1333.3,617.7 1336.1,616.1 1335.5,613.1 1336.0,611.5 1336.5,608.9 1336.5,606.5 1336.0,603.7 1337.5,601.7 1338.4,598.9 1339.5,596.8 1340.2,594.0 1340.9,592.2 1338.6,589.3 1338.9,586.2 1340.0,583.8 1340.4,581.9 1341.5,579.3 1341.0,576.6 1343.2,574.3 1344.6,572.0 1343.5,568.5 1345.2,566.9 1344.7,564.0 1347.1,562.0 1344.4,558.7 1344.8,555.9 1348.2,554.2 1348.0,551.7 1347.8,549.0 1348.8,547.3 1350.9,544.7 1350.0,542.2 1353.5,540.5 1354.4,538.7 1353.3,536.1 1354.1,533.7 1355.8,530.8 1360.2,528.9 1359.2,526.8 1362.7,524.8 1364.7,521.9 1369.6,519.9 1372.3,517.1 1374.0,514.5 1375.0,511.6 1375.8,509.6 1378.9,507.3 1380.3,504.4 1382.0,502.1 1387.1,500.1 1387.3,497.8 1391.0,495.3 1389.5,492.3 1392.4,490.3 1393.7,487.5 1396.5,485.0 1398.1,482.9 1401.7,480.7 1401.8,478.5 1402.6,475.9 1406.6,473.7 1407.3,471.5 1410.4,469.4 1411.4,466.3 1411.6,463.9 1416.1,462.8 1415.2,459.9 1419.0,457.4 1420.4,455.7 1423.2,453.2 1425.6,450.6 1426.8,448.0 1430.7,445.8 1432.6,443.2 1433.9,440.8 1438.1,438.2 1439.2,435.0 1442.8,433.4 1446.0,430.7 1445.9,428.1 1451.4,426.0 1453.9,423.8 1455.5,421.4 1459.0,419.4 1464.8,418.1 1464.8,414.8 1470.6,412.9 1471.4,410.6 1474.2,408.2 1479.6,406.2 1485.8,404.1 1486.5,401.9 1490.8,399.5 1495.0,397.0 1497.8,393.8 1503.7,391.9 1506.9,389.4 1510.7,386.8 1511.9,384.8 1515.4,381.9 1519.1,379.6 1523.1,377.2 1526.9,375.4 1528.0,373.5 1530.2,370.6 1531.8,368.7 1536.8,367.0 1538.2,364.7 1540.0,361.9 1545.1,360.6 1548.0,358.0 1551.2,355.5 1554.2,353.4 1554.1,350.2 1558.1,347.8 1558.3,345.3 1562.3,342.6 1565.3,340.8 1565.5,337.7 1567.3,335.4 1570.8,333.8 1573.1,331.3 1573.7,328.8 1574.8,328.5" marker-start="url(#mB4)" marker-mid="url(#mB4)" marker-end="url(#mB4)"/>
</g>
<g fill="none" stroke="#B177DE" stroke-width="8.4" stroke-linejoin="round" stroke-linecap="round" shape-rendering="crispEdges">
<polyline points="658.2,1222.0 909.0,1223.0 994.4,1223.0 1046.8,1228.5 1077.0,1231.2 1112.8,1234.0 1131.0,1236.0"/>
<polyline stroke="none" points="658.2,1222.0 909.0,1223.0 994.4,1223.0 1046.8,1228.5 1077.0,1231.2 1112.8,1234.0" marker-start="url(#mB5)" marker-mid="url(#mB5)" marker-end="url(#mB5)"/>
<polyline points="1131.0,1236.0 1155.5,1239.0 1171.3,1240.7 1188.0,1242.5 1201.4,1245.0 1211.2,1247.0 1222.2,1249.6 1229.4,1251.7 1240.8,1254.3 1248.5,1255.9 1257.4,1258.7 1264.2,1259.8 1272.8,1261.7 1282.0,1264.8 1290.4,1266.6 1298.7,1268.8 1306.3,1271.6 1309.2,1273.8 1316.2,1276.1 1322.1,1278.7 1329.0,1281.6 1331.5,1283.5 1336.4,1285.0 1343.8,1287.5 1348.6,1289.8 1353.4,1292.0 1358.2,1294.1 1366.4,1296.5 1370.0,1298.9 1375.6,1301.0 1382.0,1303.2 1388.0,1306.3 1394.0,1308.5 1399.8,1311.0 1404.1,1313.4 1412.1,1315.9 1417.2,1317.4 1423.0,1319.3 1426.5,1321.1 1431.1,1323.7 1436.5,1325.8 1440.2,1327.7 1445.9,1330.3 1450.3,1333.1 1455.9,1335.4 1459.0,1337.9 1464.1,1339.8 1471.5,1342.9 1478.6,1345.4 1483.5,1347.5 1488.4,1349.3 1492.8,1350.5 1499.7,1353.2 1509.0,1355.5 1515.0,1357.2 1524.3,1360.0 1537.0,1362.7 1545.4,1364.6 1560.2,1367.4 1575.0,1368.5" marker-start="url(#mB5)" marker-mid="url(#mB5)" marker-end="url(#mB5)"/>
<polyline points="658.2,1222.0 895.3,1220.2 1001.3,1216.0 1038.5,1217.5 1071.5,1213.3 1104.6,1209.2 1124.0,1206.4"/>
<polyline stroke="none" points="658.2,1222.0 895.3,1220.2 1001.3,1216.0 1038.5,1217.5 1071.5,1213.3 1104.6,1209.2" marker-start="url(#mB5)" marker-mid="url(#mB5)" marker-end="url(#mB5)"/>
<polyline points="1124.0,1206.4 1128.3,1203.3 1138.6,1201.6 1151.6,1199.7 1167.0,1197.9 1177.2,1195.9 1185.4,1192.9 1197.5,1191.3 1204.9,1188.1 1213.3,1186.0 1225.3,1184.1 1233.9,1181.6 1241.3,1179.3 1250.3,1178.1 1254.7,1174.9 1261.7,1173.3 1269.5,1170.7 1277.8,1169.4 1282.0,1165.9 1288.7,1164.1 1291.3,1160.8 1298.9,1159.3 1302.8,1156.8 1305.5,1153.8 1311.5,1152.2 1312.2,1149.7 1315.8,1147.2 1320.7,1145.5 1324.2,1143.7 1326.0,1140.7 1329.4,1138.6 1330.8,1136.4 1334.1,1134.5 1335.3,1131.8 1339.9,1129.5 1340.7,1127.1 1344.6,1124.3 1345.1,1122.6 1346.8,1119.6 1350.6,1117.9 1351.8,1115.3 1351.5,1111.9 1357.2,1110.7 1355.8,1107.1 1358.7,1105.6 1360.4,1102.9 1364.7,1100.8 1366.0,1097.9 1364.5,1094.7 1368.3,1092.7 1370.8,1091.0 1369.7,1088.2 1371.5,1085.5 1373.1,1083.3 1377.6,1081.4 1375.4,1078.3 1378.6,1076.1 1379.3,1073.7 1380.6,1071.7 1379.8,1068.6 1382.8,1066.9 1383.5,1064.3 1386.2,1062.3 1387.7,1060.9 1387.4,1057.7 1389.0,1055.5 1389.0,1052.9 1391.7,1051.2 1390.1,1047.9 1392.3,1046.4 1393.7,1043.4 1393.0,1040.9 1395.7,1038.6 1396.4,1036.9 1398.1,1033.7 1396.4,1031.0 1399.5,1029.4 1399.6,1026.8 1399.7,1024.5 1401.3,1022.5 1402.4,1020.2 1404.0,1018.0 1404.3,1014.9 1405.3,1013.4 1405.4,1011.1 1405.5,1008.7 1407.3,1006.4 1407.2,1003.6 1408.1,1001.3 1407.6,999.0 1411.5,997.3 1411.9,995.0 1412.4,992.9 1413.0,989.8 1412.0,987.3 1412.1,984.6 1416.2,983.3 1414.8,980.4 1417.0,978.3 1417.5,975.4 1415.2,972.8 1416.5,970.2 1417.3,967.6 1420.3,965.1 1419.5,962.8 1420.5,960.6 1420.8,958.1 1422.6,955.8 1420.9,952.3 1422.1,950.6 1421.4,947.3 1424.5,946.0 1423.0,942.7 1425.6,940.9 1426.7,938.7 1425.8,935.7 1426.1,933.7 1427.8,931.2 1431.6,929.7 1430.9,927.3 1431.7,925.1 1431.4,922.1 1431.5,919.7 1433.8,917.8 1434.3,915.8 1439.2,914.4 1438.4,911.9 1439.8,909.0 1442.0,907.2 1445.0,905.2 1446.4,902.7 1448.3,900.7 1448.9,898.0 1450.0,895.9 1451.2,894.2 1451.6,891.3 1450.2,888.5 1454.6,886.7 1454.4,884.7 1454.8,881.9 1452.9,879.2 1455.9,877.5 1454.3,875.1 1452.4,871.9 1451.3,870.1 1451.6,867.9 1452.5,865.4 1451.8,863.0 1452.5,860.3 1453.8,857.8 1452.8,855.9 1452.9,853.1 1454.6,850.8 1452.1,848.0 1452.6,845.8 1453.3,843.5 1454.2,840.7 1453.5,838.9 1452.2,835.4 1453.3,833.1 1453.6,831.1 1452.3,827.8 1453.7,825.5 1452.6,823.0 1451.9,819.9 1452.5,817.8 1454.6,815.5 1451.3,812.1 1454.1,810.3 1454.8,808.2 1455.1,804.8 1455.7,802.8 1453.3,799.5 1455.8,797.3 1452.8,794.4 1456.0,792.5 1455.4,789.6 1454.5,787.2 1454.0,784.9 1455.2,782.1 1458.2,780.4 1455.8,777.2 1458.1,775.6 1456.0,772.8 1458.9,770.8 1457.0,768.1 1458.4,766.0 1456.7,763.4 1460.0,761.4 1460.1,758.5 1460.8,755.9 1458.8,753.5 1461.9,750.9 1459.8,748.0 1461.0,745.7 1460.2,743.6 1461.8,741.4 1461.2,738.5 1459.9,735.9 1461.1,733.0 1462.7,731.1 1463.3,728.6 1464.5,725.4 1465.9,723.0 1467.1,720.9 1464.6,718.4 1465.2,715.4 1465.4,713.2 1464.4,710.2 1465.3,708.3 1465.2,705.6 1466.8,703.2 1468.8,701.3 1468.0,698.3 1468.7,696.7 1469.5,693.6 1471.4,691.9 1473.1,689.2 1471.0,686.5 1472.6,684.6 1472.4,682.6 1473.9,680.3 1475.8,677.5 1476.6,675.3 1474.0,672.9 1474.9,669.6 1476.2,667.5 1479.2,665.9 1477.3,662.7 1479.2,660.7 1478.6,657.7 1476.9,654.6 1479.5,652.7 1480.7,650.5 1482.1,647.4 1479.4,645.1 1481.9,642.1 1482.9,639.8 1481.5,637.1 1482.9,635.0 1481.4,632.4 1483.9,629.9 1484.5,627.9 1482.7,624.8 1486.1,623.1 1487.0,620.3 1489.1,618.8 1487.3,615.8 1490.9,613.7 1489.6,611.9 1492.2,609.2 1492.3,607.0 1492.8,605.1 1491.7,602.0 1493.1,599.8 1493.5,597.3 1496.1,595.5 1496.0,593.2 1500.3,591.3 1498.9,588.7 1499.9,585.9 1500.6,583.3 1502.0,581.1 1501.5,579.2 1503.8,576.9 1504.4,574.2 1505.7,572.2 1504.9,569.3 1506.4,566.5 1509.3,564.8 1510.2,562.7 1509.8,559.5 1508.2,557.0 1511.5,554.8 1509.7,551.8 1510.9,550.1 1511.3,547.2 1513.3,545.5 1517.2,542.9 1514.9,540.9 1519.0,538.3 1517.3,536.0 1517.9,533.6 1519.2,531.3 1518.4,528.7 1519.8,526.6 1523.1,525.1 1523.5,522.6 1527.2,520.2 1528.5,517.7 1532.2,516.1 1530.9,512.9 1535.6,510.9 1538.1,508.2 1541.2,506.4 1541.7,503.5 1545.7,501.1 1551.5,499.2 1552.9,495.7 1558.2,493.9 1560.4,491.0 1566.8,489.1 1571.8,487.1 1574.3,484.9 1579.1,483.1 1581.2,480.5 1586.2,478.1 1592.2,476.5 1595.9,474.3 1596.6,471.2 1599.6,468.8 1597.9,466.0 1600.1,464.5 1599.7,461.9 1599.9,458.7 1598.0,456.6 1596.2,453.9 1594.9,451.1 1594.2,448.9 1592.5,447.4 1586.8,444.1 1581.6,441.8 1579.7,439.6 1577.9,437.5 1576.7,435.0 1573.2,432.7 1574.5,430.3 1575.3,428.1 1574.0,425.8 1575.4,423.7 1574.0,420.7 1576.0,418.9 1574.8,415.5 1574.2,413.5 1573.8,410.3 1576.6,409.1 1573.6,405.7 1575.5,403.2 1573.2,400.8 1575.6,398.4 1572.7,395.4 1572.6,393.5 1572.6,390.3 1576.1,388.1 1574.8,385.3 1576.5,383.4 1580.7,381.2 1579.9,379.1 1582.7,376.2 1583.1,373.5 1587.8,371.4 1586.7,369.2 1591.0,367.5 1591.7,365.2 1595.1,362.2 1597.7,360.3 1601.7,357.7 1602.3,356.0 1604.3,353.7 1608.0,351.0 1610.8,348.9 1617.1,347.0 1620.8,344.8 1622.2,342.5 1626.3,339.7 1630.0,337.9 1635.8,335.4 1637.4,332.5 1644.5,330.5 1650.1,327.6 1653.1,325.7 1654.4,322.6 1658.8,320.4 1663.2,318.1 1666.9,316.6 1671.5,314.4 1676.9,312.6 1678.0,310.2 1684.3,308.5 1688.5,306.2 1693.2,303.7 1697.0,301.3 1701.6,298.7 1704.7,296.4 1711.0,294.0 1716.6,292.2 1721.7,289.1 1724.7,287.4" marker-start="url(#mB5)" marker-mid="url(#mB5)" marker-end="url(#mB5)"/>
</g>
<g fill="#000" shape-rendering="crispEdges">
<rect x="308" y="24" width="8" height="1627"/>
<rect x="312" y="20" width="2026" height="9"/>
<rect x="2334" y="24" width="8" height="1627"/>
<rect x="312" y="1647" width="2026" height="8"/>
<rect x="312" y="128.25" width="34" height="8.5"/>
<rect x="312" y="343.75" width="34" height="8.5"/>
<rect x="312" y="561.25" width="34" height="8.5"/>
<rect x="312" y="777.25" width="34" height="8.5"/>
<rect x="312" y="993.75" width="34" height="8.5"/>
<rect x="312" y="1213.25" width="34" height="8.5"/>
<rect x="312" y="1426.75" width="34" height="8.5"/>
<rect x="312" y="236.00" width="20" height="8"/>
<rect x="312" y="452.50" width="20" height="8"/>
<rect x="312" y="669.50" width="20" height="8"/>
<rect x="312" y="886.00" width="20" height="8"/>
<rect x="312" y="1104.50" width="20" height="8"/>
<rect x="312" y="1319.50" width="20" height="8"/>
<rect x="312" y="1536.00" width="20" height="8"/>
<rect x="396.93" y="1636" width="8" height="15"/>
<rect x="447.89" y="1636" width="8" height="15"/>
<rect x="484.05" y="1636" width="8" height="15"/>
<rect x="512.10" y="1636" width="8" height="15"/>
<rect x="535.02" y="1636" width="8" height="15"/>
<rect x="554.40" y="1636" width="8" height="15"/>
<rect x="571.18" y="1636" width="8" height="15"/>
<rect x="585.99" y="1636" width="8" height="15"/>
<rect x="599.25" y="1617" width="8.5" height="34"/>
<rect x="686.36" y="1636" width="8" height="15"/>
<rect x="737.32" y="1636" width="8" height="15"/>
<rect x="773.48" y="1636" width="8" height="15"/>
<rect x="801.53" y="1636" width="8" height="15"/>
<rect x="824.45" y="1636" width="8" height="15"/>
<rect x="843.83" y="1636" width="8" height="15"/>
<rect x="860.61" y="1636" width="8" height="15"/>
<rect x="875.42" y="1636" width="8" height="15"/>
<rect x="889.75" y="1617" width="8.5" height="34"/>
<rect x="974.59" y="1636" width="8" height="15"/>
<rect x="1025.55" y="1636" width="8" height="15"/>
<rect x="1061.71" y="1636" width="8" height="15"/>
<rect x="1089.76" y="1636" width="8" height="15"/>
<rect x="1112.68" y="1636" width="8" height="15"/>
<rect x="1132.06" y="1636" width="8" height="15"/>
<rect x="1148.84" y="1636" width="8" height="15"/>
<rect x="1163.65" y="1636" width="8" height="15"/>
<rect x="1175.75" y="1617" width="8.5" height="34"/>
<rect x="1264.02" y="1636" width="8" height="15"/>
<rect x="1314.98" y="1636" width="8" height="15"/>
<rect x="1351.14" y="1636" width="8" height="15"/>
<rect x="1379.19" y="1636" width="8" height="15"/>
<rect x="1402.11" y="1636" width="8" height="15"/>
<rect x="1421.49" y="1636" width="8" height="15"/>
<rect x="1438.27" y="1636" width="8" height="15"/>
<rect x="1453.08" y="1636" width="8" height="15"/>
<rect x="1466.25" y="1617" width="8.5" height="34"/>
<rect x="1553.45" y="1636" width="8" height="15"/>
<rect x="1604.41" y="1636" width="8" height="15"/>
<rect x="1640.57" y="1636" width="8" height="15"/>
<rect x="1668.62" y="1636" width="8" height="15"/>
<rect x="1691.54" y="1636" width="8" height="15"/>
<rect x="1710.92" y="1636" width="8" height="15"/>
<rect x="1727.70" y="1636" width="8" height="15"/>
<rect x="1742.51" y="1636" width="8" height="15"/>
<rect x="1753.75" y="1617" width="8.5" height="34"/>
<rect x="1842.88" y="1636" width="8" height="15"/>
<rect x="1893.84" y="1636" width="8" height="15"/>
<rect x="1930.00" y="1636" width="8" height="15"/>
<rect x="1958.05" y="1636" width="8" height="15"/>
<rect x="1980.97" y="1636" width="8" height="15"/>
<rect x="2000.35" y="1636" width="8" height="15"/>
<rect x="2017.13" y="1636" width="8" height="15"/>
<rect x="2031.94" y="1636" width="8" height="15"/>
<rect x="2043.75" y="1617" width="8.5" height="34"/>
<rect x="2131.01" y="1636" width="8" height="15"/>
<rect x="2181.97" y="1636" width="8" height="15"/>
<rect x="2218.13" y="1636" width="8" height="15"/>
<rect x="2246.18" y="1636" width="8" height="15"/>
<rect x="2269.10" y="1636" width="8" height="15"/>
<rect x="2288.48" y="1636" width="8" height="15"/>
<rect x="2305.26" y="1636" width="8" height="15"/>
<rect x="2320.07" y="1636" width="8" height="15"/>
</g>
<text transform="translate(278.6,159.5) scale(0.972,1)" font-size="94" text-anchor="end">0.1</text>
<text transform="translate(278.6,377.5) scale(0.972,1)" font-size="94" text-anchor="end">0.0</text>
<text transform="translate(278.6,593) scale(0.972,1)" font-size="94" text-anchor="end">-0.1</text>
<text transform="translate(278.6,811.5) scale(0.972,1)" font-size="94" text-anchor="end">-0.2</text>
<text transform="translate(278.6,1026.5) scale(0.972,1)" font-size="94" text-anchor="end">-0.3</text>
<text transform="translate(278.6,1241.8) scale(0.972,1)" font-size="94" text-anchor="end">-0.4</text>
<text transform="translate(278.6,1461.3) scale(0.972,1)" font-size="94" text-anchor="end">-0.5</text>
<text transform="translate(278.6,1677.6) scale(0.972,1)" font-size="94" text-anchor="end">-0.6</text>
<text transform="translate(246.6,1771) scale(0.966,1)" font-size="94">10<tspan dy="-38.5" font-size="62.5">-9</tspan></text>
<text transform="translate(535.4,1771) scale(0.966,1)" font-size="94">10<tspan dy="-38.5" font-size="62.5">-8</tspan></text>
<text transform="translate(824.2,1771) scale(0.966,1)" font-size="94">10<tspan dy="-38.5" font-size="62.5">-7</tspan></text>
<text transform="translate(1113.0,1771) scale(0.966,1)" font-size="94">10<tspan dy="-38.5" font-size="62.5">-6</tspan></text>
<text transform="translate(1401.8,1771) scale(0.966,1)" font-size="94">10<tspan dy="-38.5" font-size="62.5">-5</tspan></text>
<text transform="translate(1690.6,1771) scale(0.966,1)" font-size="94">10<tspan dy="-38.5" font-size="62.5">-4</tspan></text>
<text transform="translate(1979.4,1771) scale(0.966,1)" font-size="94">10<tspan dy="-38.5" font-size="62.5">-3</tspan></text>
<text transform="translate(2268.2,1771) scale(0.966,1)" font-size="94">10<tspan dy="-38.5" font-size="62.5">-2</tspan></text>
<text transform="translate(879.2,1863) scale(0.9865,1)" font-size="94">Current density (A/cm<tspan dy="-33.5" font-size="60">2</tspan><tspan dy="33.5">)</tspan></text>
<text transform="translate(86.6,784) rotate(-90)" font-size="94" text-anchor="middle">Potential (V)</text>
<text x="399.2" y="159" font-size="76.75">Ni/Ni-Cr/Ni-Cr-Al-Si multilayer coatings Al content (at.%)</text>
<line x1="425.8" y1="299.5" x2="633" y2="299.5" stroke="#515151" stroke-width="8.8" shape-rendering="crispEdges"/>
<g transform="translate(531.5,297.7)" fill="#515151" stroke="#515151" stroke-width="1.6" stroke-linejoin="round"><rect x="-10.7" y="-10.7" width="21.4" height="21.4"/></g>
<text x="658.6" y="330" font-size="94">4.30</text>
<line x1="425.8" y1="414.3" x2="633" y2="414.3" stroke="#F14040" stroke-width="8.8" shape-rendering="crispEdges"/>
<g transform="translate(531.5,412.5)" fill="#F14040" stroke="#F14040" stroke-width="1.6" stroke-linejoin="round"><ellipse rx="12.4" ry="10.8"/></g>
<text x="658.6" y="445" font-size="94">5.49</text>
<line x1="425.8" y1="526.1" x2="633" y2="526.1" stroke="#1A6FDF" stroke-width="8.8" shape-rendering="crispEdges"/>
<g transform="translate(531.5,526.1)" fill="#1A6FDF" stroke="#1A6FDF" stroke-width="1.6" stroke-linejoin="round"><path d="M0,-14 L13.8,11.2 L-13.8,11.2 Z"/></g>
<text x="658.6" y="558.5" font-size="94">6.98</text>
<line x1="425.8" y1="640.3" x2="633" y2="640.3" stroke="#37AD6B" stroke-width="8.8" shape-rendering="crispEdges"/>
<g transform="translate(531.5,640.3)" fill="#37AD6B" stroke="#37AD6B" stroke-width="1.6" stroke-linejoin="round"><path d="M-13.6,-6.4 L13.6,-6.4 L0,18.6 Z"/></g>
<text x="658.6" y="671" font-size="94">8.06</text>
<line x1="425.8" y1="756.1" x2="633" y2="756.1" stroke="#B177DE" stroke-width="8.8" shape-rendering="crispEdges"/>
<g transform="translate(531.5,756.1)" fill="#B177DE" stroke="#B177DE" stroke-width="1.6" stroke-linejoin="round"><path d="M0,-14.3 L14.3,0 L0,14.3 L-14.3,0 Z"/></g>
<text x="658.6" y="787" font-size="94">9.93</text>
<text x="419.6" y="971.3" font-size="84.4" style="fill:#ff0000">B2</text>
<text x="463.6" y="1034.6" font-size="84.4" style="fill:#000000">B1</text>
<text x="510.4" y="1112.3" font-size="84.4" style="fill:#0000ff">B3</text>
<text x="532.4" y="1175.6" font-size="84.4" style="fill:#008000">B4</text>
<text x="532.4" y="1257.5" font-size="84.4" style="fill:#800080">B5</text>
</svg></body></html>
